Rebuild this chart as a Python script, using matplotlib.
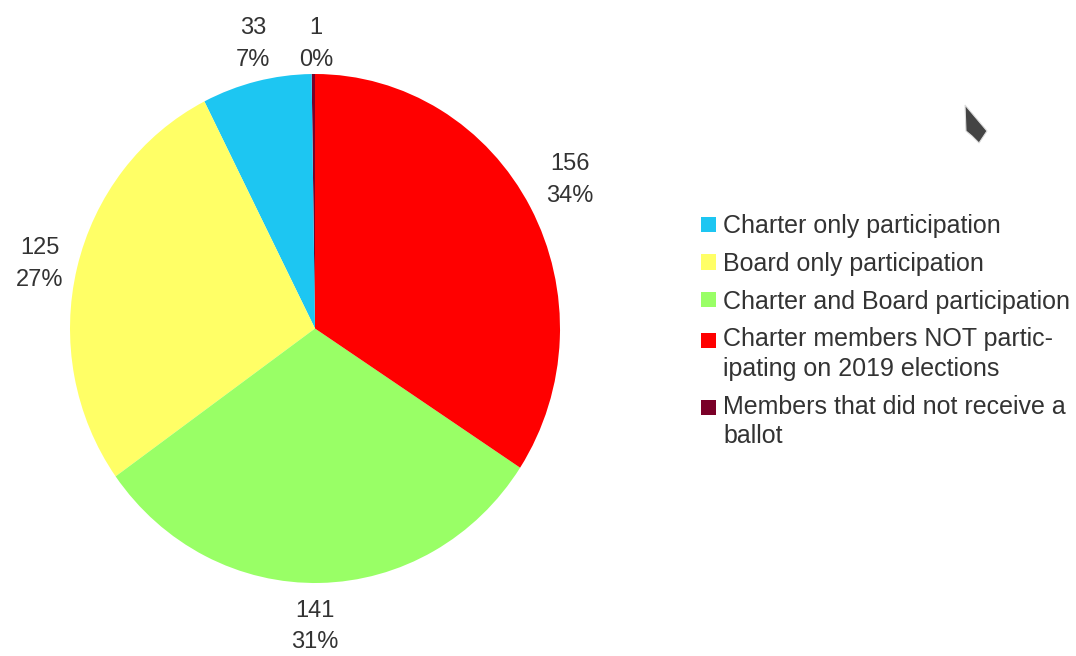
import matplotlib
matplotlib.use("Agg")
import matplotlib.pyplot as plt
from matplotlib.patches import Patch, Polygon, Rectangle
from matplotlib.legend_handler import HandlerPatch

# Data (legend order)
categories = ["Charter only participation",
              "Board only participation",
              "Charter and Board participation",
              "Charter members NOT partic-\nipating on 2019 elections",
              "Members that did not receive a\nballot"]
values = [33, 125, 141, 156, 1]
colors = ["#1DC6F2", "#FFFF66", "#99FF66", "#FF0000", "#7A0028"]

# Drawing order: counter-clockwise from top
draw_order = [4, 0, 1, 2, 3]

W, H = 1076, 656
plt.rcParams['font.family'] = ['Liberation Sans', 'DejaVu Sans']
fig = plt.figure(figsize=(W / 100, H / 100), dpi=100)

cx, cy, rx, ry = 315, 328.5, 245, 254.5
ax = fig.add_axes([(cx - rx) / W, (H - cy - ry) / H, 2 * rx / W, 2 * ry / H])

total = sum(values)
vals = [values[i] for i in draw_order]
cols = [colors[i] for i in draw_order]
labs = [f"{values[i]}\n{round(100 * values[i] / total)}%" for i in draw_order]

wedges, texts = ax.pie(vals, colors=cols, startangle=90, counterclock=True,
                       radius=1.0, labels=labs, labeldistance=1.16,
                       wedgeprops=dict(linewidth=0),
                       textprops=dict(fontsize=17, color="#333333",
                                      linespacing=1.55))
ax.set_xlim(-1, 1)
ax.set_ylim(-1, 1)
ax.set_aspect('auto')
ax.axis('off')

label_pos = [(0.004, 1.118), (-0.253, 1.118), (-1.122, 0.253),
             (0.0, -1.172), (1.04, 0.583)]
for t, p in zip(texts, label_pos):
    t.set_horizontalalignment('center')
    t.set_verticalalignment('center')
    t.set_position(p)
    t.set_clip_on(False)
for w in wedges:
    w.set_clip_on(False)


def make_square(multiline):
    def f(legend, orig_handle, xdescent, ydescent, width, height, fontsize):
        dy = 0.58 * fontsize if multiline else 0.0
        return Rectangle((-xdescent, -ydescent + dy), width, height)
    return f


handles = [Patch(facecolor=c, edgecolor='none') for c in colors]
handler_map = {h: HandlerPatch(patch_func=make_square("\n" in lab))
               for h, lab in zip(handles, categories)}
leg = fig.legend(handles, categories, loc='upper left',
                 bbox_to_anchor=(701 / W, 1 - 214 / H), frameon=False,
                 fontsize=18, handlelength=0.58, handleheight=0.56,
                 handletextpad=0.3, labelspacing=0.55, labelcolor="#333333",
                 borderaxespad=0, borderpad=0, handler_map=handler_map)
for t in leg.get_texts():
    t.set_linespacing(1.3)

# mouse cursor
cursor = Polygon([(965, H - 105), (966, H - 131), (972, H - 136),
                  (979, H - 143), (987, H - 131)], closed=True,
                 transform=None, facecolor="#444444", edgecolor="#dddddd",
                 linewidth=0.8)
fig.patches.append(cursor)

fig.savefig("out.png", dpi=100)
